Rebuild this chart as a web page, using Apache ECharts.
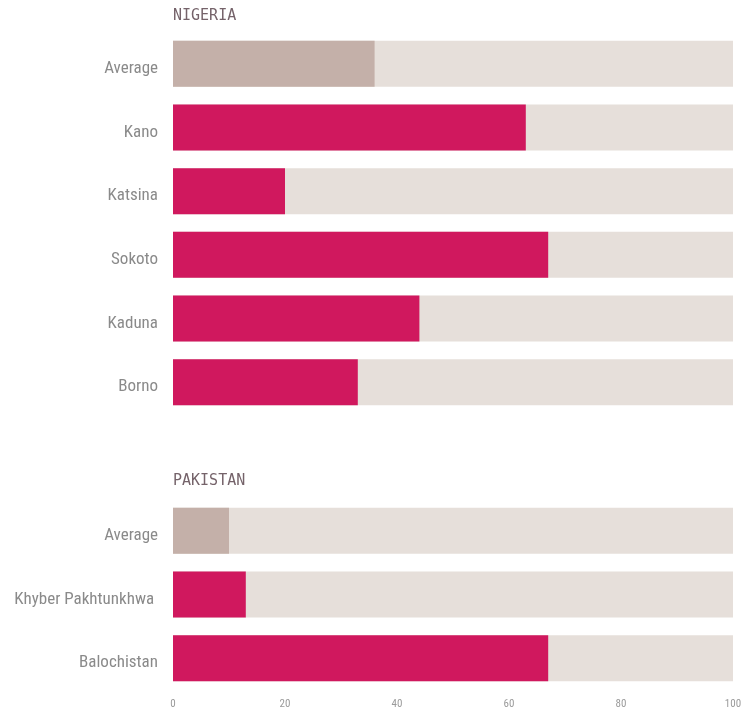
<!DOCTYPE html>
<html>
<head>
<meta charset="utf-8">
<script src="https://cdn.jsdelivr.net/npm/echarts@6/dist/echarts.min.js"></script>
<style>
  html, body { margin: 0; padding: 0; background: #fff; }
  #chart { width: 748px; height: 710px; }
</style>
</head>
<body>
<div id="chart"></div>
<script>
// Share of children (%) by region
const nigeriaRegions = ['Average', 'Kano', 'Katsina', 'Sokoto', 'Kaduna', 'Borno'];
const nigeriaValues = [36, 63, 20, 67, 44, 33];
const pakistanRegions = ['Average', 'Khyber Pakhtunkhwa ', 'Balochistan'];
const pakistanValues = [10, 13, 67];
const groupTitles = ['NIGERIA', 'PAKISTAN'];
const xTicks = [0, 20, 40, 60, 80, 100];

const FONT = '"Liberation Sans Narrow", "Roboto Condensed", Roboto, sans-serif';
const TITLE_FONT = '"DejaVu Sans Mono", "Liberation Mono", monospace';
const PINK = '#D0185E';
const AVG = '#C4B0A9';
const TRACK = '#E6DFDA';

function coloured(names, values) {
  return values.map((v, i) => ({
    value: v,
    itemStyle: { color: names[i] === 'Average' ? AVG : PINK }
  }));
}

const chart = echarts.init(document.getElementById('chart'), null, { renderer: 'canvas' });

const catAxis = (names, idx) => ({
  type: 'category',
  gridIndex: idx,
  data: names,
  inverse: true,
  axisLine: { show: false },
  axisTick: { show: false },
  axisLabel: {
    margin: 15,
    formatter: '{n|{value}}',
    rich: {
      n: { color: '#8a8a8a', fontSize: 17, fontFamily: FONT, padding: [10, 0, 0, 0] }
    }
  }
});

const valAxis = (idx, showLabels) => ({
  type: 'value',
  gridIndex: idx,
  min: 0,
  max: 100,
  interval: 20,
  splitLine: { show: false },
  axisLine: { show: false },
  axisTick: { show: false },
  axisLabel: {
    show: showLabels,
    color: '#9a9a9a',
    fontSize: 11,
    fontFamily: FONT,
    margin: 9,
    customValues: xTicks
  }
});

const barSeries = (names, values, idx) => ({
  type: 'bar',
  xAxisIndex: idx,
  yAxisIndex: idx,
  barWidth: 46,
  showBackground: true,
  backgroundStyle: { color: TRACK },
  data: coloured(names, values),
  animation: false
});

const titleStyle = { color: '#75636a', fontSize: 15, fontWeight: 'normal', fontFamily: TITLE_FONT };

chart.setOption({
  backgroundColor: '#ffffff',
  title: [
    { text: groupTitles[0], left: 168, top: 4, textStyle: titleStyle },
    { text: groupTitles[1], left: 168, top: 469, textStyle: titleStyle }
  ],
  grid: [
    { left: 173, right: 15, top: 32, height: 382 },
    { left: 173, right: 15, top: 499, height: 191 }
  ],
  xAxis: [valAxis(0, false), valAxis(1, true)],
  yAxis: [catAxis(nigeriaRegions, 0), catAxis(pakistanRegions, 1)],
  series: [
    barSeries(nigeriaRegions, nigeriaValues, 0),
    barSeries(pakistanRegions, pakistanValues, 1)
  ]
});
</script>
</body>
</html>
